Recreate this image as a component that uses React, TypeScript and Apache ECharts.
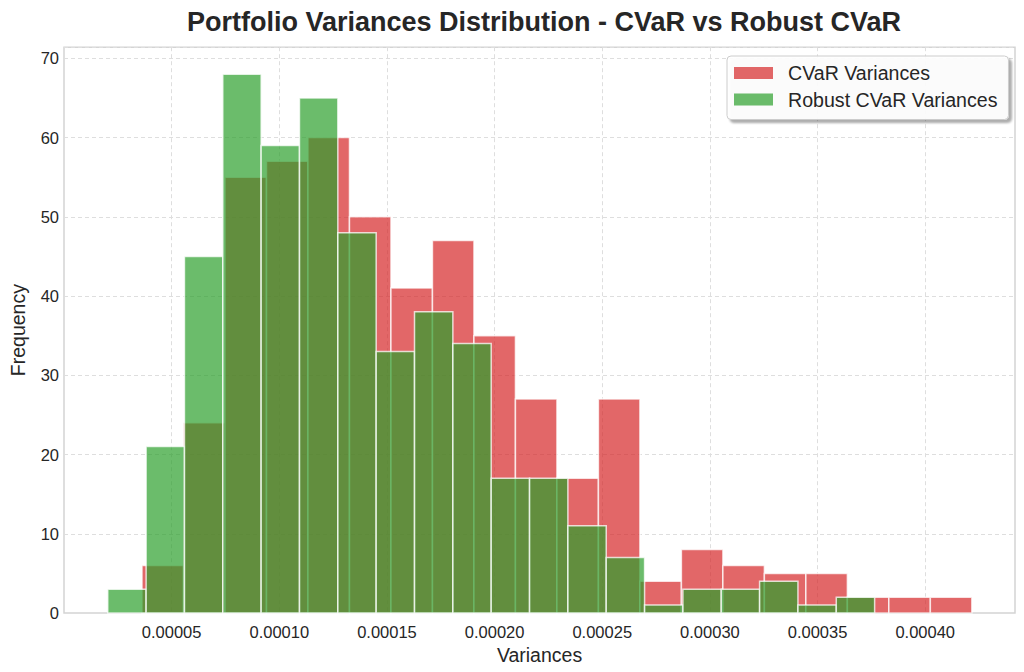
import React, { useEffect, useRef } from "react";
import * as echarts from "echarts";

// Histogram counts (20 bins each)
const cvarCounts = [6, 24, 55, 57, 60, 50, 41, 47, 35, 27, 17, 27, 4, 8, 6, 5, 5, 2, 2, 2];
const robustCounts = [3, 21, 45, 68, 59, 65, 48, 33, 38, 34, 17, 17, 11, 7, 1, 3, 3, 4, 1, 2];
// Data range (first and last bin edge) of each histogram
const cvarRange = [0.00003623, 0.00042165];
const robustRange = [0.00002033, 0.0003765];
const xTickValues = [0.00005, 0.0001, 0.00015, 0.0002, 0.00025, 0.0003, 0.00035, 0.0004];
const yTickValues = [0, 10, 20, 30, 40, 50, 60, 70];

const FONT = "'Liberation Sans', Arial, Helvetica, sans-serif";
const TEXT = "#262626";
const RED = "rgba(214,39,40,0.7)";
const GREEN = "rgba(44,160,44,0.7)";

function bins(counts: number[], range: number[]) {
  const n = counts.length;
  const w = (range[1] - range[0]) / n;
  return counts.map((c, i) => [range[0] + i * w, range[0] + (i + 1) * w, c]);
}

function isTick(v: number, list: number[]) {
  return list.some((t) => Math.abs(t - v) < 1e-9);
}

export default function App() {
  const ref = useRef<HTMLDivElement>(null);
  useEffect(() => {
    document.body.style.margin = "0";
    const chart = echarts.init(ref.current!, null, { renderer: "svg" });
    const makeRender = (fill: string) => (params: any, api: any) => {
      const p0 = api.coord([api.value(0), api.value(2)]);
      const p1 = api.coord([api.value(1), 0]);
      return {
        type: "rect",
        shape: { x: p0[0], y: p0[1], width: p1[0] - p0[0], height: p1[1] - p0[1] },
        style: { fill, stroke: "rgba(255,255,255,0.75)", lineWidth: 1.5 },
      };
    };
    chart.setOption({
      animation: false,
      backgroundColor: "#ffffff",
      title: {
        text: "Portfolio Variances Distribution - CVaR vs Robust CVaR",
        left: 539,
        textAlign: "center",
        top: 3,
        textStyle: { fontFamily: FONT, fontSize: 27, fontWeight: "bold", color: TEXT },
      },
      grid: {
        left: 62,
        right: 9,
        top: 47.2,
        bottom: 59,
        show: true,
        borderColor: "#d4d4d4",
        borderWidth: 1.5,
        backgroundColor: "transparent",
      },
      legend: {
        orient: "vertical",
        left: 727,
        top: 56,
        padding: [7, 11, 10, 7],
        itemWidth: 39,
        itemHeight: 12,
        itemGap: 6.5,
        backgroundColor: "rgba(255,255,255,0.9)",
        borderColor: "#cccccc",
        borderWidth: 1,
        borderRadius: 4,
        shadowColor: "rgba(0,0,0,0.35)",
        shadowBlur: 2,
        shadowOffsetX: 3,
        shadowOffsetY: 3,
        textStyle: { fontFamily: FONT, fontSize: 19.6, lineHeight: 19, color: TEXT, padding: [0, 0, 0, 10] },
        data: [
          { name: "CVaR Variances", icon: "rect" },
          { name: "Robust CVaR Variances", icon: "rect" },
        ],
      },
      xAxis: {
        type: "value",
        min: 0,
        max: 0.0004417,
        interval: 0.00005,
        name: "Variances",
        nameLocation: "middle",
        nameGap: 28,
        nameTextStyle: { fontFamily: FONT, fontSize: 19.5, color: TEXT },
        axisLine: { show: false },
        axisTick: { show: false },
        axisLabel: {
          fontFamily: FONT,
          fontSize: 16.5,
          color: TEXT,
          margin: 10,
          formatter: (v: number) => (isTick(v, xTickValues) ? v.toFixed(5) : ""),
        },
        splitLine: { show: true, lineStyle: { color: "#dedede", type: [4, 3], width: 1 } },
      },
      yAxis: {
        type: "value",
        min: 0,
        max: 71.4,
        interval: 10,
        name: "Frequency",
        nameLocation: "middle",
        nameGap: 36,
        nameTextStyle: { fontFamily: FONT, fontSize: 19.5, color: TEXT },
        axisLine: { show: false },
        axisTick: { show: false },
        axisLabel: {
          fontFamily: FONT,
          fontSize: 16.5,
          color: TEXT,
          margin: 5,
          formatter: (v: number) => (isTick(v, yTickValues) ? String(v) : ""),
        },
        splitLine: { show: true, lineStyle: { color: "#dedede", type: [4, 3], width: 1 } },
      },
      series: [
        {
          name: "CVaR Variances",
          type: "custom",
          itemStyle: { color: RED },
          encode: { x: [0, 1], y: 2 },
          renderItem: makeRender(RED),
          data: bins(cvarCounts, cvarRange),
        },
        {
          name: "Robust CVaR Variances",
          type: "custom",
          itemStyle: { color: GREEN },
          encode: { x: [0, 1], y: 2 },
          renderItem: makeRender(GREEN),
          data: bins(robustCounts, robustRange),
        },
      ],
    });
    return () => chart.dispose();
  }, []);
  return <div ref={ref} style={{ width: 1024, height: 672 }} />;
}
